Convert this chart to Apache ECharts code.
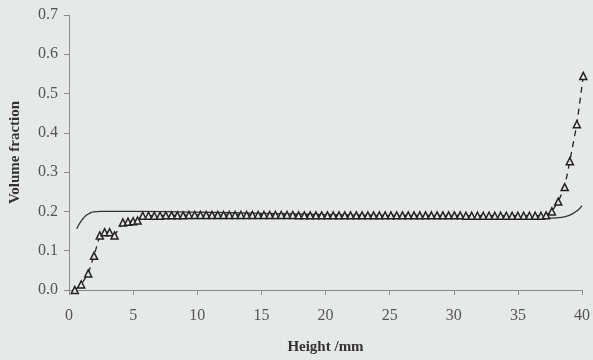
<!DOCTYPE html>
<html><head><meta charset="utf-8">
<script src="https://cdn.jsdelivr.net/npm/echarts@6/dist/echarts.min.js"></script>
<style>html,body{margin:0;padding:0;background:#e7e9e9;}#c{width:593px;height:360px;}</style>
</head><body><div id="c"></div>
<script>
// Experimental data (triangles + dashed line)
const expX = [0.45,0.95,1.5,1.95,2.4,2.78,3.17,3.55,4.2,4.6,5.0,5.35,
  5.75,6.2,6.65,7.1,7.55,8.0,8.45,8.9,9.35,9.8,10.25,10.7,11.15,11.6,12.05,12.5,12.95,13.4,13.85,14.3,14.75,15.2,15.65,16.1,16.55,17.0,17.45,17.9,18.35,18.8,19.25,19.7,20.15,20.6,21.05,21.5,21.95,22.4,22.85,23.3,23.75,24.2,24.65,25.1,25.55,26.0,26.45,26.9,27.35,27.8,28.25,28.7,29.15,29.6,30.05,30.5,30.95,31.4,31.85,32.3,32.75,33.2,33.65,34.1,34.55,35.0,35.45,35.9,36.35,36.8,37.2,
  37.65,38.15,38.65,39.05,39.6,40.1];
const expY = [0.0,0.014,0.042,0.087,0.139,0.147,0.147,0.139,0.172,0.174,0.175,0.177,
  0.189,0.189,0.189,0.189,0.19,0.19,0.19,0.19,0.191,0.191,0.191,0.191,0.191,0.191,0.191,0.191,0.191,0.191,0.191,0.191,0.191,0.191,0.191,0.191,0.191,0.191,0.191,0.19,0.19,0.19,0.19,0.19,0.19,0.19,0.19,0.19,0.19,0.19,0.19,0.19,0.19,0.19,0.19,0.19,0.19,0.19,0.19,0.19,0.19,0.19,0.19,0.19,0.19,0.19,0.19,0.19,0.189,0.189,0.189,0.189,0.189,0.189,0.189,0.189,0.189,0.189,0.189,0.189,0.189,0.189,0.19,
  0.2,0.225,0.262,0.328,0.422,0.545];
// Model curve (solid line)
const modX = [0.6,0.8,1.0,1.3,1.6,1.9,2.5,3,5,10,15,20,25,30,35,36.5,37.5,38.4,39.0,39.5,39.8,40];
const modY = [0.156,0.168,0.178,0.189,0.195,0.199,0.2,0.2,0.2,0.198,0.195,0.192,0.189,0.186,0.184,0.183,0.183,0.185,0.19,0.199,0.207,0.215];
const xTicks = [0,5,10,15,20,25,30,35,40];
const yTicks = [0.0,0.1,0.2,0.3,0.4,0.5,0.6,0.7];

const font = '"Liberation Serif", "DejaVu Serif", serif';
const chart = echarts.init(document.getElementById('c'), null, {renderer:'canvas'});
chart.setOption({
  backgroundColor:'#e7e9e9',
  animation:false,
  grid:{left:63,right:9,top:15,bottom:60,containLabel:false},
  xAxis:{type:'value',min:xTicks[0],max:xTicks[xTicks.length-1],interval:5,
    name:'Height /mm',nameLocation:'middle',nameGap:50,
    nameTextStyle:{fontFamily:font,fontWeight:'bold',fontSize:15,color:'#333'},
    axisLine:{lineStyle:{color:'#8a8a8a',width:1}},
    axisTick:{show:true,length:5,inside:false,lineStyle:{color:'#8a8a8a'}},
    axisLabel:{fontFamily:font,fontSize:16,color:'#555',margin:18},
    splitLine:{show:false}},
  yAxis:{type:'value',min:0,max:0.7,interval:0.1,
    name:'Volume fraction',nameLocation:'middle',nameGap:46,
    nameTextStyle:{fontFamily:font,fontWeight:'bold',fontSize:15,color:'#333'},
    axisLine:{show:true,lineStyle:{color:'#8a8a8a',width:1}},
    axisTick:{show:true,length:5,lineStyle:{color:'#8a8a8a'}},
    axisLabel:{fontFamily:font,fontSize:16,color:'#555',margin:11,formatter:v=>v.toFixed(1)},
    splitLine:{show:false}},
  series:[
    {type:'line',data:modX.map((x,i)=>[x,modY[i]]),smooth:0.4,symbol:'none',
     lineStyle:{color:'#333',width:1.3},clip:false},
    {type:'line',data:expX.map((x,i)=>[x,expY[i]]),symbol:'triangle',symbolSize:7,
     showSymbol:true,showAllSymbol:true,
     itemStyle:{color:'#e7e9e9',borderColor:'#222',borderWidth:1.5},
     lineStyle:{color:'#222',width:1.3,type:[6,5]},clip:false}
  ]
});
</script></body></html>
